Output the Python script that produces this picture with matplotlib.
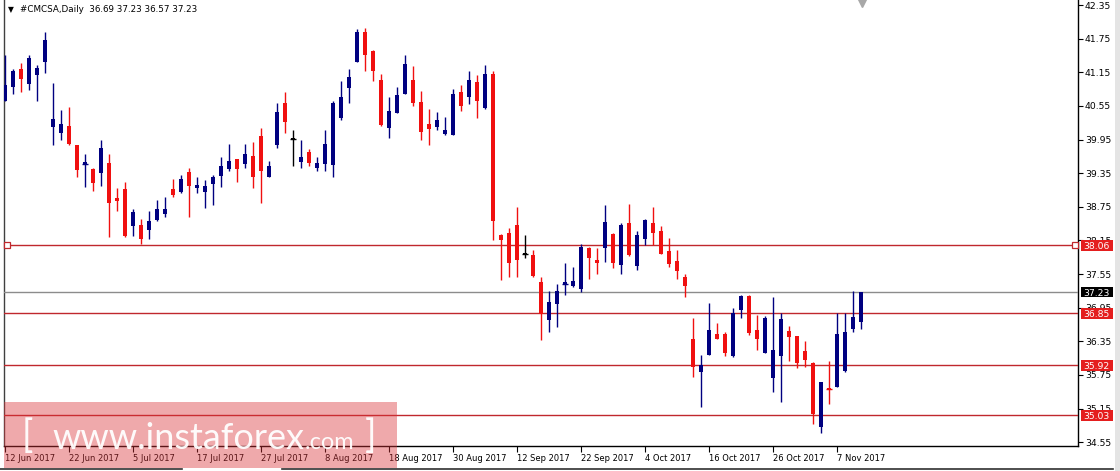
import matplotlib
matplotlib.use("Agg")
import matplotlib.pyplot as plt
from matplotlib.patches import Rectangle
from matplotlib.lines import Line2D
from matplotlib.transforms import blended_transform_factory
import numpy as np

# ---------------- data ----------------
symbol_title = "#CMCSA,Daily  36.69 37.23 36.57 37.23"

open_ = [40.64, 40.89, 41.20, 40.94, 41.10, 41.34, 40.18, 40.06, 40.19, 39.85,
         39.52, 39.42, 39.36, 39.53, 38.90, 39.06, 38.41, 38.43, 38.34, 38.52,
         38.62, 39.07, 39.02, 39.37, 39.09, 39.02, 39.15, 39.30, 39.42, 39.60,
         39.51, 39.66, 40.01, 39.28, 39.85, 40.61, 39.96, 39.55, 39.72, 39.45,
         39.51, 39.50, 40.34, 40.87, 41.34, 41.87, 41.53, 41.01, 40.15, 40.43,
         40.77, 41.01, 40.62, 40.23, 40.17, 40.04, 40.03, 40.80, 40.70, 40.98,
         40.51, 41.12, 38.25, 38.29, 38.43, 37.91, 37.89, 37.41, 36.73, 37.02,
         37.38, 37.34, 37.28, 38.02, 37.80, 38.02, 38.26, 37.71, 38.47, 37.69,
         38.18, 38.47, 38.31, 37.96, 37.78, 37.49, 36.40, 35.81, 36.11, 36.48,
         36.48, 36.09, 36.91, 37.16, 36.56, 36.15, 35.70, 36.09, 36.53, 36.45,
         36.17, 35.96, 34.83, 35.50, 35.54, 35.83, 36.57, 36.69]
high = [41.46, 41.20, 41.32, 41.46, 41.28, 41.86, 40.96, 40.48, 40.53, 39.86,
        39.69, 39.44, 39.94, 39.70, 39.08, 39.20, 38.71, 38.53, 38.68, 38.88,
        38.93, 39.25, 39.31, 39.45, 39.28, 39.23, 39.31, 39.64, 39.87, 39.61,
        39.87, 39.91, 40.15, 39.57, 40.60, 40.80, 40.12, 39.94, 39.78, 39.63,
        40.12, 40.63, 40.99, 41.21, 41.92, 41.94, 41.55, 41.12, 40.70, 40.88,
        41.46, 41.26, 40.82, 40.49, 40.44, 40.36, 40.86, 40.92, 41.17, 41.10,
        41.28, 41.17, 38.27, 38.37, 38.75, 38.25, 37.98, 37.49, 37.25, 37.37,
        37.75, 37.68, 38.09, 38.04, 38.01, 38.78, 38.28, 38.46, 38.80, 38.31,
        38.54, 38.74, 38.41, 38.19, 37.98, 37.56, 36.76, 36.11, 37.03, 36.67,
        36.52, 36.94, 37.17, 37.18, 36.82, 36.80, 37.14, 36.86, 36.62, 36.45,
        36.36, 35.99, 35.63, 36.00, 36.86, 36.86, 37.25, 37.23]
low = [40.64, 40.76, 40.80, 40.83, 40.63, 41.14, 39.85, 39.95, 39.85, 39.29,
       39.11, 39.04, 39.13, 38.22, 38.68, 38.21, 38.23, 38.09, 38.18, 38.50,
       38.56, 38.93, 38.99, 38.56, 39.00, 38.73, 38.79, 39.11, 39.39, 39.20,
       39.44, 39.09, 38.81, 39.28, 39.80, 40.06, 39.48, 39.45, 39.48, 39.38,
       39.38, 39.29, 40.29, 40.61, 41.34, 41.18, 40.99, 40.19, 39.98, 40.42,
       40.77, 40.55, 39.95, 39.86, 40.12, 40.03, 40.03, 40.46, 40.58, 40.34,
       40.49, 38.15, 37.44, 37.50, 37.50, 37.83, 37.50, 36.37, 36.52, 36.60,
       37.18, 37.32, 37.23, 37.47, 37.56, 37.77, 37.66, 37.56, 37.88, 37.62,
       38.06, 38.06, 37.90, 37.67, 37.46, 37.15, 35.72, 35.18, 36.11, 36.39,
       36.08, 36.07, 36.77, 36.46, 36.20, 36.15, 35.45, 35.27, 36.00, 35.87,
       35.89, 34.87, 34.71, 35.23, 35.54, 35.81, 36.52, 36.57]
close = [40.92, 41.17, 41.03, 41.40, 41.22, 41.73, 40.32, 40.23, 39.87, 39.41,
         39.54, 39.18, 39.80, 38.81, 38.86, 38.23, 38.65, 38.18, 38.50, 38.71,
         38.71, 38.96, 39.25, 39.13, 39.14, 39.13, 39.29, 39.47, 39.57, 39.42,
         39.70, 39.29, 39.38, 39.47, 40.45, 40.27, 39.96, 39.64, 39.54, 39.54,
         39.87, 40.61, 40.70, 41.07, 41.86, 41.45, 41.18, 40.21, 40.46, 40.74,
         41.30, 40.60, 40.09, 40.13, 40.30, 40.12, 40.76, 40.55, 41.01, 40.63,
         41.12, 38.50, 38.15, 37.75, 37.80, 37.91, 37.52, 36.84, 37.05, 37.25,
         37.40, 37.43, 38.04, 37.84, 37.75, 38.48, 37.75, 38.43, 37.89, 38.25,
         38.51, 38.29, 37.91, 37.73, 37.61, 37.34, 35.90, 35.93, 36.56, 36.39,
         36.15, 36.86, 37.16, 36.50, 36.40, 36.76, 36.20, 36.75, 36.43, 35.97,
         36.01, 35.05, 35.62, 35.49, 36.48, 36.52, 36.78, 37.23]

tick_labels = ["12 Jun 2017", "22 Jun 2017", "5 Jul 2017", "17 Jul 2017",
               "27 Jul 2017", "8 Aug 2017", "18 Aug 2017", "30 Aug 2017",
               "12 Sep 2017", "22 Sep 2017", "4 Oct 2017", "16 Oct 2017",
               "26 Oct 2017", "7 Nov 2017"]
tick_every = 8

price_ticks = [42.35, 41.75, 41.15, 40.55, 39.95, 39.35, 38.75, 38.15,
               37.55, 36.95, 36.35, 35.75, 35.15, 34.55]
levels = [38.06, 36.85, 35.92, 35.03]
current_price = 37.23

# ---------------- figure ----------------
W, H = 1120, 471
fig = plt.figure(figsize=(W / 100, H / 100), dpi=100)
fig.patch.set_facecolor("white")

def fx(x):
    return x / W

def fy(y):
    return 1 - y / H

ax_l, ax_r, ax_t, ax_b = 4, 1078, 0, 446
ax = fig.add_axes([fx(ax_l), fy(ax_b), (ax_r - ax_l) / W, (ax_b - ax_t) / H])

px_per_bar = 8.0
first_px = 5.0
x_lo = (ax_l - first_px) / px_per_bar
x_hi = (ax_r - first_px) / px_per_bar
ppu = 56.06
y_top = 42.35 + (5 - ax_t) / ppu
y_bot = 42.35 - (ax_b - 5) / ppu
ax.set_xlim(x_lo, x_hi)
ax.set_ylim(y_bot, y_top)

BLUE = "#000080"
RED = "#f01010"
LINE_RED = "#c0282d"

n = len(close)
xs = np.arange(n)
o = np.array(open_)
c = np.array(close)
hi = np.array(high)
lo = np.array(low)
colors = np.where(c > o, BLUE, np.where(c < o, RED, "#000000"))

ax.vlines(xs, lo, hi, colors=colors, linewidth=1.0, zorder=4)
body_h = np.maximum(np.abs(c - o), 1.2 / ppu)
ax.bar(xs, body_h, bottom=np.minimum(o, c), width=0.58, color=colors,
       edgecolor="none", linewidth=0, zorder=5)
for i in range(n):
    if abs(c[i] - o[i]) < 0.03:
        ax.hlines(o[i], i - 0.4, i + 0.4, colors=colors[i], linewidth=1.0, zorder=5)

# horizontal levels
for lv in levels:
    ax.axhline(lv, color=LINE_RED, linewidth=1.0, zorder=3)
ax.axhline(current_price, color="#8c8c8c", linewidth=1.0, zorder=3)
ax.plot([x_lo + 0.32, x_hi - 0.35], [levels[0], levels[0]], linestyle="none",
        marker="s", markersize=4, markerfacecolor="white",
        markeredgecolor=LINE_RED, markeredgewidth=0.9, zorder=6, clip_on=False)

# axes styling
ax.spines["top"].set_visible(False)
ax.spines["left"].set_color("#404040")
ax.spines["right"].set_color("black")
ax.spines["bottom"].set_color("black")
for s in ["left", "right", "bottom"]:
    ax.spines[s].set_linewidth(1.0)

ax.yaxis.tick_right()
ax.set_yticks(price_ticks)
ax.set_yticklabels([f"{p:.2f}" for p in price_ticks], fontsize=6.7)
ax.tick_params(axis="y", direction="out", length=3.5, width=0.8, pad=1.5,
               colors="black")

ax.set_xticks(np.arange(len(tick_labels)) * tick_every)
ax.set_xticklabels(tick_labels, fontsize=6.0, ha="left")
ax.tick_params(axis="x", direction="out", length=4, width=0.8, pad=1.5,
               colors="black")

# right-side price boxes
tr = blended_transform_factory(ax.transAxes, ax.transData)
bx0 = (1080.5 - ax_l) / (ax_r - ax_l)
bw = 32.5 / (ax_r - ax_l)
bh = 10.5 / ppu
for val, fc in [(levels[0], "#e41e1e"), (levels[1], "#e41e1e"),
                (levels[2], "#e41e1e"), (levels[3], "#e41e1e"),
                (current_price, "#000000")]:
    ax.add_patch(Rectangle((bx0, val - bh / 2), bw, bh, transform=tr,
                           facecolor=fc, edgecolor="none", clip_on=False, zorder=8))
    ax.text(bx0 + bw / 2, val, f"{val:.2f}", transform=tr, ha="center",
            va="center_baseline", fontsize=6.7, color="white", zorder=9, clip_on=False)

# title
fig.text(fx(8), fy(9.5), "\u25bc", fontsize=5.5, color="black", va="center", ha="left")
fig.text(fx(20), fy(9.5), symbol_title, fontsize=6.3, color="black",
         va="center", ha="left")

# shift marker at top
ax.plot([(862 - first_px) / px_per_bar], [1 - 3 / (ax_b - ax_t)], marker="v",
        markersize=6, color="#a8a8a8",
        transform=blended_transform_factory(ax.transData, ax.transAxes),
        clip_on=False, zorder=7)

# watermark
fig.add_artist(Rectangle((fx(4), fy(468)), (397 - 4) / W, (468 - 402) / H,
                         transform=fig.transFigure, facecolor=(0.85, 0.2, 0.22),
                         alpha=0.42, edgecolor="none", zorder=10))
wm_kw = dict(color="white", alpha=0.95, zorder=11, va="baseline", ha="left",
             family=["Lato", "DejaVu Sans"], fontweight="normal")
fig.text(fx(22), fy(447), "[", fontsize=27, **wm_kw)
fig.text(fx(52), fy(449), "www.instaforex", fontsize=26, **wm_kw)
fig.text(fx(305), fy(449), ".com", fontsize=17, **wm_kw)
fig.text(fx(365), fy(447), "]", fontsize=27, **wm_kw)

# bottom tab strip and right border
fig.add_artist(Line2D([fx(0), fx(182)], [fy(469), fy(469)], color="#303030",
                      linewidth=1.2, transform=fig.transFigure))
fig.add_artist(Line2D([fx(282), fx(1113)], [fy(469), fy(469)], color="#303030",
                      linewidth=1.2, transform=fig.transFigure))
fig.add_artist(Rectangle((fx(1115), 0), 5 / W, 1, transform=fig.transFigure,
                         facecolor="#e4e4e4", edgecolor="none"))

fig.savefig("out.png", dpi=100, facecolor="white")
